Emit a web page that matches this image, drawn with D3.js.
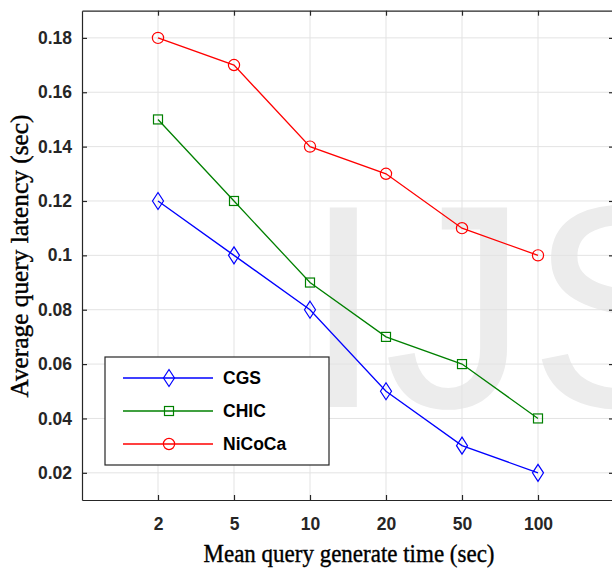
<!DOCTYPE html>
<html>
<head>
<meta charset="utf-8">
<script src="https://d3js.org/d3.v7.min.js"></script>
<style>
  body { margin: 0; background: #fff; }
  .tick text { font-family: "Liberation Sans", Arial, sans-serif; font-weight: bold; font-size: 17.5px; fill: #262626; }
</style>
</head>
<body>
<div id="container"></div>
<script>
// data
var categories = ["2", "5", "10", "20", "50", "100"];
var cgs    = [0.12, 0.10, 0.08, 0.05, 0.03, 0.02];
var chic   = [0.15, 0.12, 0.09, 0.07, 0.06, 0.04];
var nicoca = [0.18, 0.17, 0.14, 0.13, 0.11, 0.10];
var yTicks = [0.02, 0.04, 0.06, 0.08, 0.1, 0.12, 0.14, 0.16, 0.18];

var series = [
  {name: "CGS",    values: cgs,    color: "#0000ff", marker: "diamond"},
  {name: "CHIC",   values: chic,   color: "#008000", marker: "square"},
  {name: "NiCoCa", values: nicoca, color: "#ff0000", marker: "circle"}
];

var W = 612, H = 569;
var margin = {left: 82, top: 10.7, right: -2, bottom: 69};

var svg = d3.select("#container").append("svg")
  .attr("width", W).attr("height", H);

var x = d3.scalePoint()
  .domain(categories)
  .range([margin.left, W - margin.right])
  .padding(1);

var y = d3.scaleLinear()
  .domain([0.01, 0.19])
  .range([H - margin.bottom, margin.top]);

var x0 = margin.left, x1 = W - margin.right, y0 = H - margin.bottom, y1 = margin.top;

// watermark (cut by the right edge, like in the original)
svg.append("text")
  .attr("x", 303).attr("y", 407)
  .attr("font-family", "Liberation Sans, Arial, sans-serif")
  .attr("font-size", 290)
  .attr("fill", "#ececec")
  .text("IJS");

// grid
var grid = svg.append("g").attr("stroke", "#e3e3e3").attr("stroke-width", 1);
grid.selectAll(".gx").data(categories).enter().append("line")
  .attr("x1", d => x(d)).attr("x2", d => x(d))
  .attr("y1", y0).attr("y2", y1);
grid.selectAll(".gy").data(yTicks).enter().append("line")
  .attr("x1", x0).attr("x2", x1)
  .attr("y1", d => y(d)).attr("y2", d => y(d));

// axes (ticks inward, MATLAB style box)
var axisB = d3.axisBottom(x).tickSizeInner(-5).tickSizeOuter(0).tickPadding(18);
var axisL = d3.axisLeft(y).tickValues(yTicks).tickSizeInner(-5).tickSizeOuter(0).tickPadding(10)
  .tickFormat(d => d === 0.1 ? "0.1" : d3.format(".2f")(d));
var axisT = d3.axisTop(x).tickSizeInner(-5).tickSizeOuter(0).tickFormat("");
var axisR = d3.axisRight(y).tickValues(yTicks).tickSizeInner(-5).tickSizeOuter(0).tickFormat("");

function styleAxis(g) {
  g.select(".domain").attr("stroke", "#262626").attr("stroke-width", 1.2);
  g.selectAll(".tick line").attr("stroke", "#262626").attr("stroke-width", 1.2);
}

svg.append("g").attr("transform", `translate(0,${y0})`).call(axisB).call(styleAxis)
  .selectAll("text").attr("dy", "0.71em");
svg.append("g").attr("transform", `translate(${x0},0)`).call(axisL).call(styleAxis);
svg.append("g").attr("transform", `translate(0,${y1})`).call(axisT).call(styleAxis);
svg.append("g").attr("transform", `translate(${x1},0)`).call(axisR).call(styleAxis);

// markers
function drawMarker(g, type, color) {
  if (type === "diamond") {
    g.append("path").attr("d", "M0,-8.5L5.5,0L0,8.5L-5.5,0Z");
  } else if (type === "square") {
    g.append("rect").attr("x", -4.5).attr("y", -4.5).attr("width", 9).attr("height", 9);
  } else {
    g.append("circle").attr("r", 5.6);
  }
  g.selectAll("*").attr("fill", "none").attr("stroke", color).attr("stroke-width", 1.2);
}

var line = d3.line().x((d, i) => x(categories[i])).y(d => y(d));

series.forEach(function(s) {
  svg.append("path")
    .datum(s.values)
    .attr("d", line)
    .attr("fill", "none")
    .attr("stroke", s.color)
    .attr("stroke-width", 1.3);
  s.values.forEach(function(v, i) {
    var g = svg.append("g").attr("transform", `translate(${x(categories[i])},${y(v)})`);
    drawMarker(g, s.marker, s.color);
  });
});

// legend
var legend = svg.append("g");
legend.append("rect")
  .attr("x", 105).attr("y", 357).attr("width", 224).attr("height", 108)
  .attr("fill", "#fff").attr("stroke", "#262626").attr("stroke-width", 1.2);
series.forEach(function(s, i) {
  var ly = 378 + i * 33;
  legend.append("line")
    .attr("x1", 123).attr("x2", 213).attr("y1", ly).attr("y2", ly)
    .attr("stroke", s.color).attr("stroke-width", 1.3);
  var g = legend.append("g").attr("transform", `translate(169,${ly})`);
  drawMarker(g, s.marker, s.color);
  legend.append("text")
    .attr("x", 223).attr("y", ly).attr("dy", "0.36em")
    .attr("font-family", "Liberation Sans, Arial, sans-serif")
    .attr("font-weight", "bold").attr("font-size", 17.5)
    .attr("fill", "#000")
    .text(s.name);
});

// axis titles (tall, a bit narrow, heavy serif)
svg.append("text")
  .attr("x", 349).attr("y", 562)
  .attr("text-anchor", "middle")
  .attr("font-family", "Liberation Serif, Times New Roman, serif")
  .attr("font-size", 26)
  .attr("textLength", 291).attr("lengthAdjust", "spacingAndGlyphs")
  .attr("fill", "#000").attr("stroke", "#000").attr("stroke-width", 0.4)
  .text("Mean query generate time (sec)");

svg.append("text")
  .attr("transform", "translate(28,256) rotate(-90)")
  .attr("text-anchor", "middle")
  .attr("font-family", "Liberation Serif, Times New Roman, serif")
  .attr("font-size", 26)
  .attr("textLength", 283).attr("lengthAdjust", "spacingAndGlyphs")
  .attr("fill", "#000").attr("stroke", "#000").attr("stroke-width", 0.4)
  .text("Average query latency (sec)");
</script>
</body>
</html>
